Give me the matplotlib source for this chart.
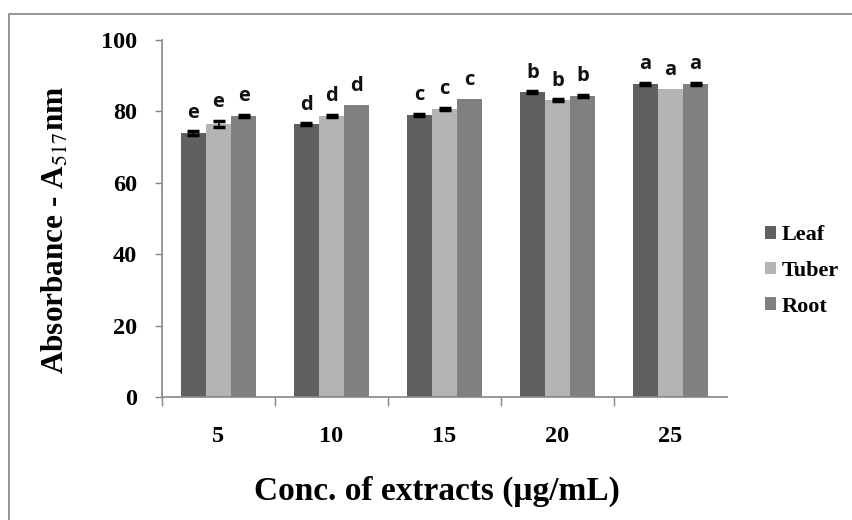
import numpy as np
import matplotlib
matplotlib.use("Agg")
import matplotlib.pyplot as plt
from matplotlib.lines import Line2D

# data
conc = ["5", "10", "15", "20", "25"]
series = ["Leaf", "Tuber", "Root"]
leaf = [73.9, 76.5, 79.0, 85.4, 87.7]
tuber = [76.5, 78.7, 80.7, 83.2, 86.3]
root = [78.7, 81.8, 83.5, 84.3, 87.7]
leaf_err = [0.55, 0.2, 0.3, 0.2, 0.3]
tuber_err = [0.9, 0.3, 0.3, 0.2, 0.0]
root_err = [0.3, 0.0, 0.0, 0.3, 0.3]
letters = ["e", "d", "c", "b", "a"]

colors = ["#606060", "#b4b4b4", "#808080"]
serif = "Liberation Serif"
plt.rcParams['mathtext.fontset'] = 'stix'

fig = plt.figure(figsize=(8.52, 5.20), dpi=100)
ax = fig.add_axes([162/852, 1-397/520, (727-162)/852, (397-40)/520])

x = np.arange(len(conc))
w = 0.222
vals = [leaf, tuber, root]
errs = [leaf_err, tuber_err, root_err]
for i, (v, e) in enumerate(zip(vals, errs)):
    pos = x + (i - 1) * w
    ax.bar(pos, v, width=w, color=colors[i], label=series[i], zorder=2)
    e = np.array(e)
    m = e > 0
    ax.errorbar(pos[m], np.array(v)[m], yerr=e[m], fmt='none', ecolor='black',
                elinewidth=1.2, capsize=4, capthick=2.5, zorder=3)
    for k in range(len(conc)):
        ax.text(pos[k], v[k] + e[k] + 3.8, letters[k], ha='center', va='baseline',
                fontsize=14.5, family="Open Sans", fontweight='bold', color='#111111')

ax.set_xlim(-0.5, 4.5)
ax.set_ylim(0, 100)
ax.set_yticks([0, 20, 40, 60, 80, 100])
ax.set_xticks(x)
ax.set_xticklabels(conc)
ax.set_xticks(np.arange(-0.5, 4.0, 1.0), minor=True)
ax.tick_params(axis='x', which='major', length=0, pad=21)
ax.tick_params(axis='x', which='minor', length=6.5, width=1, color='#868686', direction='out')
ax.tick_params(axis='y', length=5, width=1, color='#868686', direction='out', pad=13)
for lab in ax.get_xticklabels() + ax.get_yticklabels():
    lab.set_fontfamily(serif)
    lab.set_fontweight('bold')
    lab.set_fontsize(17.5)

for s in ['top', 'right']:
    ax.spines[s].set_visible(False)
for s in ['left', 'bottom']:
    ax.spines[s].set_color('#868686')
    ax.spines[s].set_linewidth(1.2)

fig.text(56/852, 1-230/520, r"Absorbance - A$_{517}$nm", rotation=90, ha='center', va='center',
         fontsize=22.5, family=serif, fontweight='bold')
fig.text(437/852, 1-491/520, "Conc. of extracts (\u03bcg/mL)", ha='center', va='center',
         fontsize=24, family=serif, fontweight='bold')

leg = ax.legend(loc='center left', bbox_to_anchor=(765/852, 1-271/520),
                bbox_transform=fig.transFigure, frameon=False, borderpad=0,
                borderaxespad=0, handlelength=0.5, handleheight=0.5, handletextpad=0.25,
                labelspacing=0.7, prop={'family': serif, 'weight': 'bold', 'size': 16})

# outer chart frame (top and left edges visible)
fc = '#8c8c8c'
fig.add_artist(Line2D([9/852, 9/852, 1.0], [0.0, 1-13.5/520, 1-13.5/520],
                      transform=fig.transFigure, color=fc, lw=1.3))

fig.savefig("out.png", dpi=100)
